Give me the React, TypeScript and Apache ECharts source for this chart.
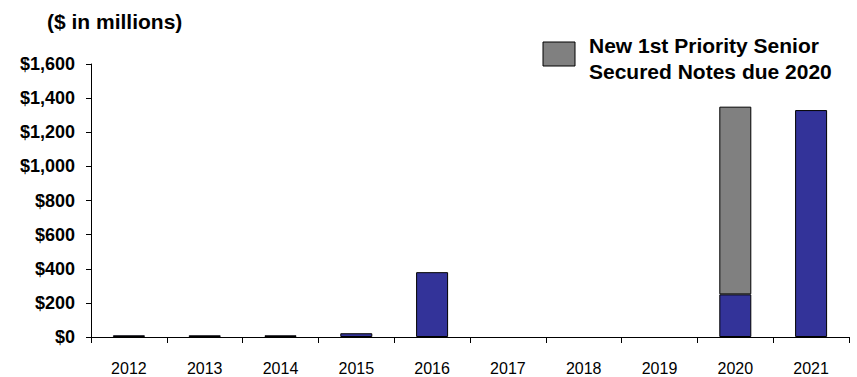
import React, { useEffect, useRef } from "react";
import * as echarts from "echarts";

const categories = ["2012", "2013", "2014", "2015", "2016", "2017", "2018", "2019", "2020", "2021"];
const existingDebt: (number | null)[] = [10, 10, 10, 22, 380, null, null, null, 250, 1330];
const newNotes: (number | null)[] = [null, null, null, null, null, null, null, null, 1100, null];
const legendLabel = "New 1st Priority Senior\nSecured Notes due 2020";
const unitLabel = "($ in millions)";

const FONT = "'Liberation Sans', Arial, sans-serif";

export default function App() {
  const ref = useRef<HTMLDivElement>(null);
  useEffect(() => {
    if (!ref.current) return;
    const chart = echarts.init(ref.current, undefined, { renderer: "svg" });
    chart.setOption({
      animation: false,
      backgroundColor: "#ffffff",
      title: {
        text: unitLabel,
        left: 47,
        top: 11,
        padding: 0,
        textStyle: { fontFamily: FONT, fontWeight: "bold", fontSize: 21, color: "#000", lineHeight: 21 },
      },
      grid: { left: 91, right: 8, top: 64, bottom: 40, containLabel: false },
      xAxis: {
        type: "category",
        data: categories,
        boundaryGap: true,
        axisLine: { lineStyle: { color: "#000", width: 1 } },
        axisTick: { show: true, length: 6, lineStyle: { color: "#000" } },
        axisLabel: { fontFamily: FONT, fontSize: 16, color: "#000", margin: 23, interval: 0 },
      },
      yAxis: {
        type: "value",
        min: 0,
        max: 1600,
        interval: 200,
        axisLine: { show: true, lineStyle: { color: "#000", width: 1 } },
        axisTick: { show: true, length: 5, lineStyle: { color: "#000" } },
        splitLine: { show: false },
        axisLabel: {
          fontFamily: FONT,
          fontWeight: "bold",
          fontSize: 18,
          color: "#000",
          margin: 16,
          formatter: (v: number) => "$" + v.toLocaleString("en-US"),
        },
      },
      series: [
        {
          name: "Existing",
          type: "bar",
          stack: "debt",
          data: existingDebt,
          barWidth: 32,
          itemStyle: { color: "#333399", borderColor: "#000", borderWidth: 1 },
        },
        {
          name: "New 1st Priority Senior Secured Notes due 2020",
          type: "bar",
          stack: "debt",
          data: newNotes,
          barWidth: 32,
          itemStyle: { color: "#808080", borderColor: "#000", borderWidth: 1 },
        },
      ],
      graphic: [
        {
          type: "rect",
          shape: { x: 543, y: 42, width: 32, height: 24 },
          style: { fill: "#808080", stroke: "#000", lineWidth: 1 },
        },
        {
          type: "text",
          x: 589,
          y: 33,
          style: {
            text: legendLabel,
            fontFamily: FONT,
            fontWeight: "bold",
            fontSize: 21,
            lineHeight: 25.5,
            fill: "#000",
            verticalAlign: "top",
            align: "left",
          },
        },
      ],
    });
    return () => chart.dispose();
  }, []);
  return <div ref={ref} style={{ width: 857, height: 377, position: "absolute", left: 0, top: 0 }} />;
}
